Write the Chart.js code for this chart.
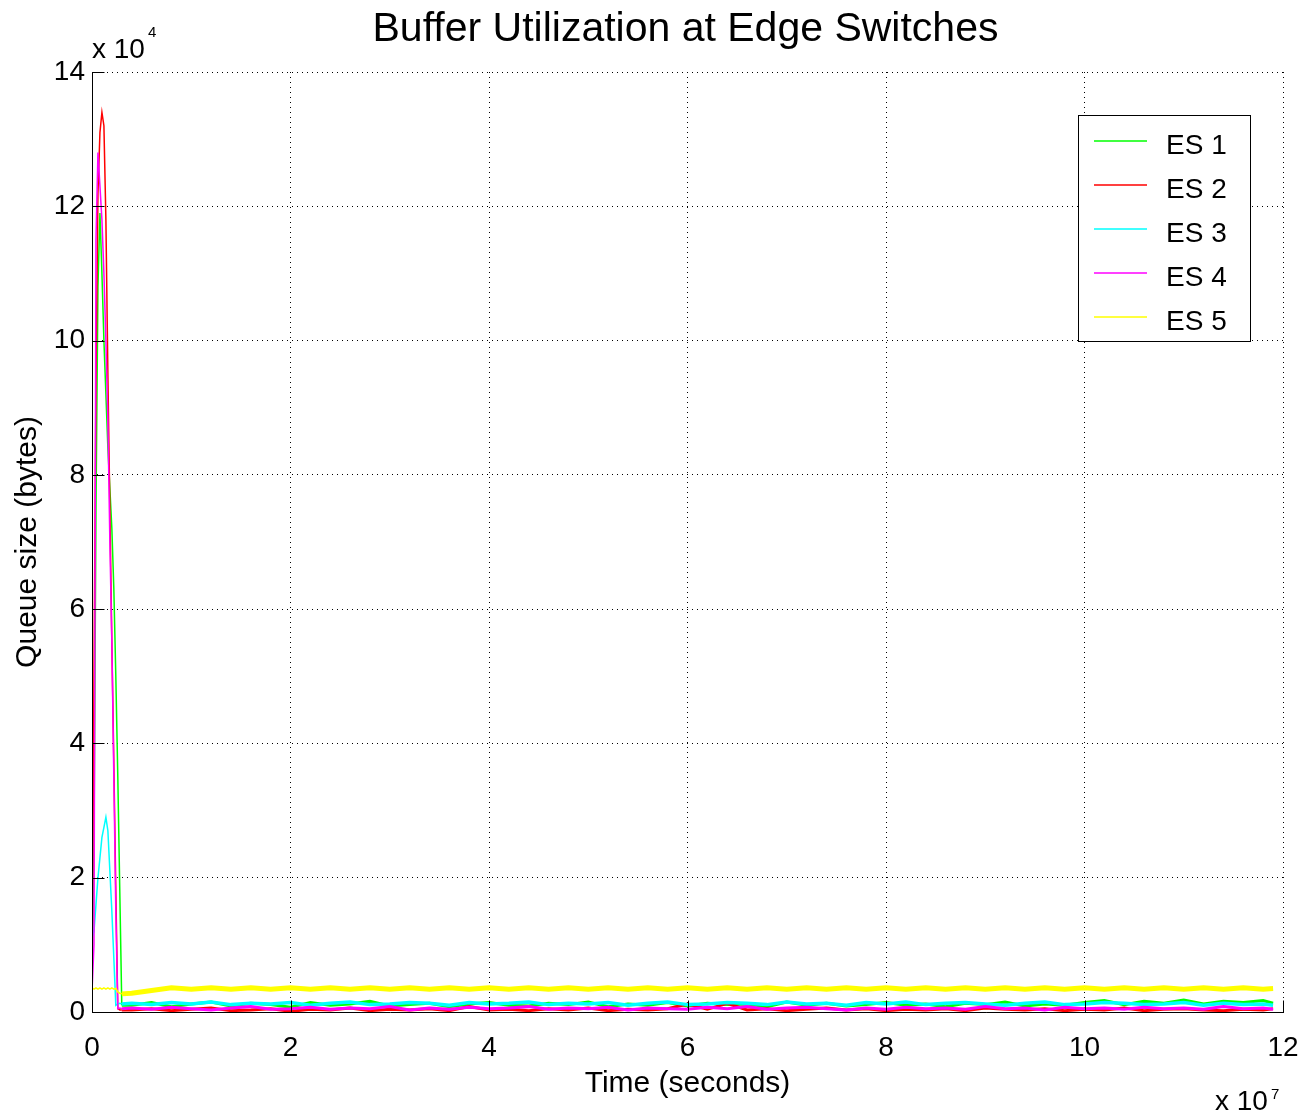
<!DOCTYPE html>
<html>
<head>
<meta charset="utf-8">
<title>Buffer Utilization at Edge Switches</title>
<script src="https://cdn.jsdelivr.net/npm/chart.js@4.4.1/dist/chart.umd.min.js"></script>
<style>
    html, body { margin: 0; padding: 0; background: #fff; }
    #wrap { width: 1303px; height: 1116px; }
</style>
</head>
<body>
<div id="wrap"><canvas id="grafico" width="1303" height="1116"></canvas></div>
<script>
// Time in units of 1e7 s, queue size in units of 1e4 bytes
const timeSpike = [0, 0.02, 0.04, 0.06, 0.08, 0.10, 0.12, 0.14, 0.16, 0.18, 0.20, 0.22, 0.24, 0.26, 0.28, 0.30];
const timeTail = [
    0.4, 0.6, 0.8, 1.0, 1.2, 1.4, 1.6, 1.8, 2.0, 2.2,
    2.4, 2.6, 2.8, 3.0, 3.2, 3.4, 3.6, 3.8, 4.0, 4.2,
    4.4, 4.6, 4.8, 5.0, 5.2, 5.4, 5.6, 5.8, 6.0, 6.2,
    6.4, 6.6, 6.8, 7.0, 7.2, 7.4, 7.6, 7.8, 8.0, 8.2,
    8.4, 8.6, 8.8, 9.0, 9.2, 9.4, 9.6, 9.8, 10.0, 10.2,
    10.4, 10.6, 10.8, 11.0, 11.2, 11.4, 11.6, 11.8, 11.9
];

const es1Queue = [
    0.5, 2.5, 7.5, 10.8, 11.9, 11.0, 10.0, 9.2, 8.4, 7.8, 7.2, 6.3, 5.0, 3.5, 1.8, 0.1,
    0.10, 0.14, 0.08, 0.12, 0.15, 0.09, 0.13, 0.11, 0.07, 0.14,
    0.10, 0.12, 0.16, 0.09, 0.11, 0.13, 0.08, 0.12, 0.14, 0.10,
    0.09, 0.13, 0.11, 0.15, 0.08, 0.12, 0.10, 0.14, 0.09, 0.13,
    0.11, 0.12, 0.08, 0.15, 0.10, 0.13, 0.09, 0.11, 0.14, 0.10,
    0.12, 0.08, 0.13, 0.11, 0.15, 0.09, 0.12, 0.10, 0.14, 0.17,
    0.11, 0.16, 0.13, 0.18, 0.12, 0.16, 0.14, 0.17, 0.13
];
const es2Queue = [
    0, 5.0, 9.4, 12.2, 13.1, 13.4, 13.2, 11.8, 9.5, 7.5, 5.5, 3.7, 1.8, 0.05, 0.03, 0.03,
    0.03, 0.05, 0.02, 0.04, 0.06, 0.02, 0.03, 0.05, 0.01, 0.04,
    0.03, 0.06, 0.02, 0.04, 0.03, 0.05, 0.02, 0.08, 0.03, 0.04,
    0.02, 0.05, 0.03, 0.06, 0.02, 0.04, 0.03, 0.05, 0.12, 0.04,
    0.13, 0.03, 0.05, 0.02, 0.04, 0.06, 0.03, 0.05, 0.02, 0.04,
    0.03, 0.05, 0.02, 0.06, 0.04, 0.03, 0.05, 0.02, 0.04, 0.03,
    0.06, 0.02, 0.04, 0.05, 0.03, 0.02, 0.04, 0.03, 0.05
];
const es3Queue = [
    1.1, 1.2, 1.6, 2.0, 2.3, 2.6, 2.75, 2.9, 2.7, 2.1, 1.5, 0.8, 0.1, 0.12, 0.13, 0.12,
    0.13, 0.11, 0.14, 0.12, 0.15, 0.11, 0.13, 0.12, 0.14, 0.10,
    0.13, 0.15, 0.11, 0.12, 0.14, 0.13, 0.10, 0.14, 0.12, 0.13,
    0.15, 0.11, 0.13, 0.12, 0.14, 0.10, 0.13, 0.15, 0.11, 0.12,
    0.14, 0.13, 0.11, 0.15, 0.12, 0.13, 0.10, 0.14, 0.12, 0.15,
    0.11, 0.13, 0.14, 0.12, 0.10, 0.13, 0.15, 0.11, 0.12, 0.14,
    0.13, 0.11, 0.12, 0.14, 0.10, 0.13, 0.11, 0.12, 0.10
];
const es4Queue = [
    0.3, 1.0, 11.5, 12.8, 12.3, 11.8, 11.0, 10.0, 8.8, 7.0, 5.5, 3.5, 1.5, 0.05, 0.06, 0.05,
    0.06, 0.04, 0.07, 0.05, 0.03, 0.06, 0.08, 0.04, 0.05, 0.07,
    0.04, 0.06, 0.05, 0.08, 0.03, 0.06, 0.04, 0.07, 0.05, 0.06,
    0.08, 0.04, 0.06, 0.05, 0.07, 0.03, 0.06, 0.05, 0.04, 0.07,
    0.05, 0.08, 0.04, 0.06, 0.07, 0.05, 0.03, 0.06, 0.04, 0.07,
    0.05, 0.06, 0.04, 0.08, 0.05, 0.06, 0.03, 0.07, 0.05, 0.06,
    0.04, 0.07, 0.05, 0.06, 0.04, 0.08, 0.05, 0.06, 0.04
];
const es5Queue = [
    0.36, 0.34, 0.36, 0.34, 0.36, 0.34, 0.36, 0.34, 0.36, 0.34, 0.36, 0.34, 0.35, 0.30, 0.28, 0.27,
    0.28, 0.32, 0.36, 0.34, 0.36, 0.34, 0.36, 0.34, 0.36, 0.34,
    0.36, 0.34, 0.36, 0.34, 0.36, 0.34, 0.36, 0.34, 0.36, 0.34,
    0.36, 0.34, 0.36, 0.34, 0.36, 0.34, 0.36, 0.34, 0.36, 0.34,
    0.36, 0.34, 0.36, 0.34, 0.36, 0.34, 0.36, 0.34, 0.36, 0.34,
    0.36, 0.34, 0.36, 0.34, 0.36, 0.34, 0.36, 0.34, 0.36, 0.34,
    0.36, 0.34, 0.36, 0.34, 0.36, 0.34, 0.36, 0.34, 0.35
];

const seriesLabels = ['ES 1', 'ES 2', 'ES 3', 'ES 4', 'ES 5'];
const seriesColors = ['#00ff00', '#ff0000', '#00ffff', '#ff00ff', '#ffff00'];
const seriesQueues = [es1Queue, es2Queue, es3Queue, es4Queue, es5Queue];
const tailWidths = [3, 3, 3.5, 3, 5];

const FONT = "'Liberation Sans', Arial, Helvetica, sans-serif";
Chart.defaults.font.family = FONT;
Chart.defaults.color = '#000';

const time = timeSpike.concat(timeTail);

function toPoints(queue) {
    return queue.map((q, i) => ({ x: time[i], y: q }));
}

// MATLAB-like decorations: title, axes with inward ticks, exponents and boxed legend
const matlabDecor = {
    id: 'matlabDecor',
    afterDraw(chart) {
        const { ctx, chartArea: area, scales: { x, y } } = chart;
        const snap = v => Math.round(v) + 0.5;
        ctx.save();

        ctx.fillStyle = '#000';
        ctx.textAlign = 'center';
        ctx.textBaseline = 'alphabetic';
        ctx.font = `41px ${FONT}`;
        ctx.fillText('Buffer Utilization at Edge Switches', (area.left + area.right) / 2 - 2, 41);

        // axes
        ctx.strokeStyle = '#000';
        ctx.lineWidth = 1;
        ctx.beginPath();
        ctx.moveTo(snap(area.left), area.top);
        ctx.lineTo(snap(area.left), snap(area.bottom));
        ctx.lineTo(area.right + 1, snap(area.bottom));
        x.ticks.forEach(t => {
            const px = snap(x.getPixelForValue(t.value));
            ctx.moveTo(px, snap(area.bottom));
            ctx.lineTo(px, snap(area.bottom) - 12);
        });
        y.ticks.forEach(t => {
            const py = snap(y.getPixelForValue(t.value));
            ctx.moveTo(snap(area.left), py);
            ctx.lineTo(snap(area.left) + 12, py);
        });
        ctx.stroke();

        // exponents
        ctx.textAlign = 'left';
        ctx.font = `28px ${FONT}`;
        ctx.fillText('x 10', area.left, 58);
        ctx.fillText('x 10', 1215, 1110);
        ctx.font = `15px ${FONT}`;
        ctx.fillText('4', area.left + 56, 37);
        ctx.fillText('7', 1271, 1099);

        // legend
        const box = { left: 1078, top: 115, width: 172, height: 226 };
        ctx.fillStyle = '#fff';
        ctx.fillRect(box.left, box.top, box.width, box.height);
        ctx.strokeStyle = '#000';
        ctx.strokeRect(box.left + 0.5, box.top + 0.5, box.width, box.height);
        ctx.font = `28px ${FONT}`;
        chart.data.datasets.forEach((ds, i) => {
            const ly = box.top + 26 + i * 44;
            ctx.strokeStyle = ds.borderColor;
            ctx.lineWidth = 1.5;
            ctx.beginPath();
            ctx.moveTo(1094, ly);
            ctx.lineTo(1147, ly);
            ctx.stroke();
            ctx.fillStyle = '#000';
            ctx.fillText(ds.label, 1166, ly + 13);
        });

        ctx.restore();
    }
};

const datasets = seriesLabels.map((label, i) => ({
    label: label,
    data: toPoints(seriesQueues[i]),
    borderColor: seriesColors[i],
    backgroundColor: seriesColors[i],
    borderWidth: 1.5,
    pointRadius: 0,
    tension: 0,
    order: seriesLabels.length - i,
    segment: {
        borderWidth: ctx => (ctx.p0.parsed.x >= 0.3 ? tailWidths[i] : 1.5)
    }
}));

const axisGrid = { color: '#000', lineWidth: 1, drawTicks: false };

new Chart(document.getElementById('grafico'), {
    type: 'line',
    data: { datasets: datasets },
    options: {
        responsive: false,
        animation: false,
        layout: { padding: { top: 72, right: 20, left: 0, bottom: 0 } },
        plugins: {
            legend: { display: false },
            title: { display: false },
            tooltip: { enabled: false }
        },
        scales: {
            x: {
                type: 'linear',
                min: 0,
                max: 12,
                afterFit(scale) {
                    scale.height = 104;
                    scale.paddingLeft = 0;
                    scale.paddingRight = 0;
                },
                ticks: { stepSize: 2, font: { size: 28 }, padding: 19, maxRotation: 0, autoSkip: false },
                grid: axisGrid,
                border: { display: false, dash: [1, 4] },
                title: { display: true, text: 'Time (seconds)', font: { size: 30 }, padding: { top: 0, bottom: 14 } }
            },
            y: {
                type: 'linear',
                min: 0,
                max: 14,
                afterFit(scale) {
                    scale.width = 92;
                    scale.paddingTop = 0;
                    scale.paddingBottom = 0;
                },
                ticks: { stepSize: 2, font: { size: 28 }, padding: 7 },
                grid: axisGrid,
                border: { display: false, dash: [1, 4] },
                title: { display: true, text: 'Queue size (bytes)', font: { size: 30 }, padding: { top: 10, bottom: 0 } }
            }
        }
    },
    plugins: [matlabDecor]
});
</script>
</body>
</html>
